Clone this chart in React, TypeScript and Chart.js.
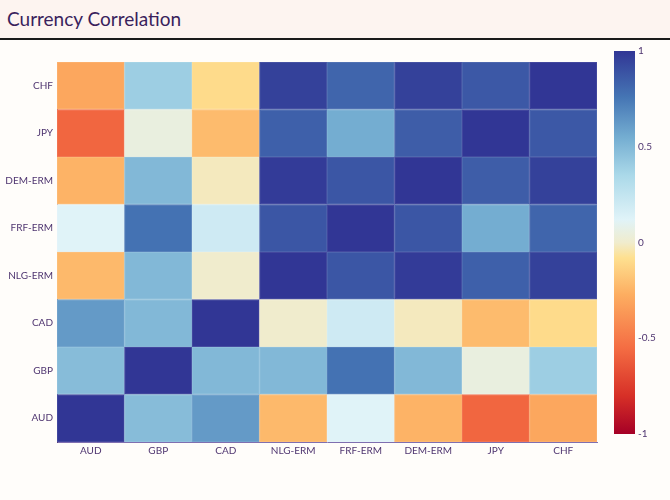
import React, { useEffect, useRef } from "react";
import { Chart, registerables } from "chart.js";

Chart.register(...registerables);

const currencies = ["AUD", "GBP", "CAD", "NLG-ERM", "FRF-ERM", "DEM-ERM", "JPY", "CHF"];

// rows: bottom (AUD) to top (CHF); columns in same order
const rowAUD = [1.0, 0.48, 0.62, -0.23, 0.12, -0.25, -0.58, -0.3];
const rowGBP = [0.48, 1.0, 0.5, 0.5, 0.77, 0.5, 0.05, 0.4];
const rowCAD = [0.62, 0.5, 1.0, 0.0, 0.2, -0.02, -0.22, -0.1];
const rowNLG = [-0.23, 0.5, 0.0, 1.0, 0.88, 0.98, 0.84, 0.96];
const rowFRF = [0.12, 0.77, 0.2, 0.88, 1.0, 0.88, 0.55, 0.82];
const rowDEM = [-0.25, 0.5, -0.02, 0.98, 0.88, 1.0, 0.85, 0.96];
const rowJPY = [-0.58, 0.05, -0.22, 0.84, 0.55, 0.85, 1.0, 0.87];
const rowCHF = [-0.3, 0.4, -0.1, 0.96, 0.82, 0.96, 0.87, 1.0];
const matrix = [rowAUD, rowGBP, rowCAD, rowNLG, rowFRF, rowDEM, rowJPY, rowCHF];

const colorbarTicks = [-1, -0.5, 0, 0.5, 1];

const scaleStops: [number, [number, number, number]][] = [
  [-1, [165, 0, 38]],
  [-0.8, [215, 48, 39]],
  [-0.55, [244, 109, 67]],
  [-0.27, [253, 174, 97]],
  [-0.08, [254, 224, 144]],
  [0.0, [240, 236, 205]],
  [0.12, [224, 243, 248]],
  [0.35, [171, 217, 233]],
  [0.55, [116, 173, 209]],
  [0.76, [69, 117, 180]],
  [1, [49, 54, 149]],
];

function rgbFor(v: number): number[] {
  for (let i = 1; i < scaleStops.length; i++) {
    const [v1, c1] = scaleStops[i];
    const [v0, c0] = scaleStops[i - 1];
    if (v <= v1) {
      const t = (v - v0) / (v1 - v0);
      return c0.map((x, k) => Math.round(x + (c1[k] - x) * t));
    }
  }
  return scaleStops[scaleStops.length - 1][1];
}

function colorFor(v: number): string {
  const c = rgbFor(v);
  return `rgb(${c[0]},${c[1]},${c[2]})`;
}

function edgeFor(v: number): string {
  const c = rgbFor(v).map((x) => Math.round(x + (255 - x) * 0.12));
  return `rgb(${c[0]},${c[1]},${c[2]})`;
}

const FONT = "Lato, 'Open Sans', sans-serif";
const TICK_COLOR = "#4f3570";

export default function App() {
  const mainRef = useRef<HTMLCanvasElement>(null);
  const cbRef = useRef<HTMLCanvasElement>(null);

  useEffect(() => {
    document.body.style.margin = "0";
    const datasets = matrix.map((row, r) => ({
      data: row.map(() => [r - 0.5, r + 0.5]),
      backgroundColor: row.map((v) => colorFor(v)),
      borderColor: row.map((v) => edgeFor(v)),
      borderWidth: 1,
      borderSkipped: false,
      grouped: false,
      barPercentage: 1,
      categoryPercentage: 1,
    }));
    const main = new Chart(mainRef.current!, {
      type: "bar",
      data: { labels: currencies, datasets: datasets as any },
      options: {
        animation: false,
        responsive: false,
        maintainAspectRatio: false,
        layout: { padding: { top: 22, right: 8, left: 0, bottom: 0 } },
        plugins: { legend: { display: false }, tooltip: { enabled: false } },
        scales: {
          x: {
            type: "category",
            grid: { display: false, drawTicks: false },
            border: { display: true, color: "#7f6fb0", width: 1 },
            ticks: { color: TICK_COLOR, font: { family: FONT, size: 10 }, padding: 3, maxRotation: 0 },
            afterFit: (s: any) => { s.height = 58; },
          },
          y: {
            type: "linear",
            min: -0.5,
            max: 7.5,
            grid: { display: false, drawTicks: false },
            border: { display: true, color: "#5b3f7a", width: 1 },
            afterBuildTicks: (s: any) => { s.ticks = currencies.map((_, i) => ({ value: i })); },
            ticks: {
              color: TICK_COLOR,
              font: { family: FONT, size: 10 },
              padding: 4,
              callback: (v: any) => currencies[Number(v)] ?? "",
            },
            afterFit: (s: any) => { s.width = 57; },
          },
        },
      },
    });

    const cb = new Chart(cbRef.current!, {
      type: "bar",
      data: {
        labels: [""],
        datasets: [
          {
            data: [[-1, 1]] as any,
            backgroundColor: (ctx: any) => {
              const area = ctx.chart.chartArea;
              if (!area) return "#888";
              const ys = ctx.chart.scales.y;
              const g = ctx.chart.ctx.createLinearGradient(0, ys.getPixelForValue(-1), 0, ys.getPixelForValue(1));
              scaleStops.forEach(([v]) => g.addColorStop((v + 1) / 2, colorFor(v)));
              return g;
            },
            borderWidth: 0,
            barPercentage: 1,
            categoryPercentage: 1,
          },
        ],
      },
      options: {
        animation: false,
        responsive: false,
        maintainAspectRatio: false,
        layout: { padding: { top: 11, left: 14, bottom: 16, right: 0 } },
        plugins: { legend: { display: false }, tooltip: { enabled: false } },
        scales: {
          x: { display: false },
          y: {
            position: "right",
            min: -1,
            max: 1,
            grid: { display: false, drawTicks: false },
            border: { display: false },
            afterBuildTicks: (s: any) => { s.ticks = colorbarTicks.map((v) => ({ value: v })); },
            ticks: {
              color: TICK_COLOR,
              font: { family: FONT, size: 10 },
              padding: 3,
              callback: (v: any) => String(Number(v)),
            },
            afterFit: (s: any) => { s.width = 35; },
          },
        },
      },
    });

    return () => {
      main.destroy();
      cb.destroy();
    };
  }, []);

  return (
    <div style={{ position: "fixed", left: 0, top: 0, width: 670, height: 500, background: "#fffdfa", overflow: "hidden" }}>
      <div
        style={{
          position: "absolute", left: 0, top: 0, width: 670, height: 38,
          background: "#fdf4f0", borderBottom: "2px solid #1a1a1a",
        }}
      >
        <div style={{ position: "absolute", left: 7, top: 7, fontFamily: FONT, fontSize: 19, lineHeight: "23px", color: "#3a1f5c", whiteSpace: "nowrap" }}>
          Currency Correlation
        </div>
      </div>
      <canvas ref={mainRef} width={605} height={460} style={{ position: "absolute", left: 0, top: 40, width: 605, height: 460 }} />
      <canvas ref={cbRef} width={70} height={410} style={{ position: "absolute", left: 600, top: 40, width: 70, height: 410 }} />
    </div>
  );
}
